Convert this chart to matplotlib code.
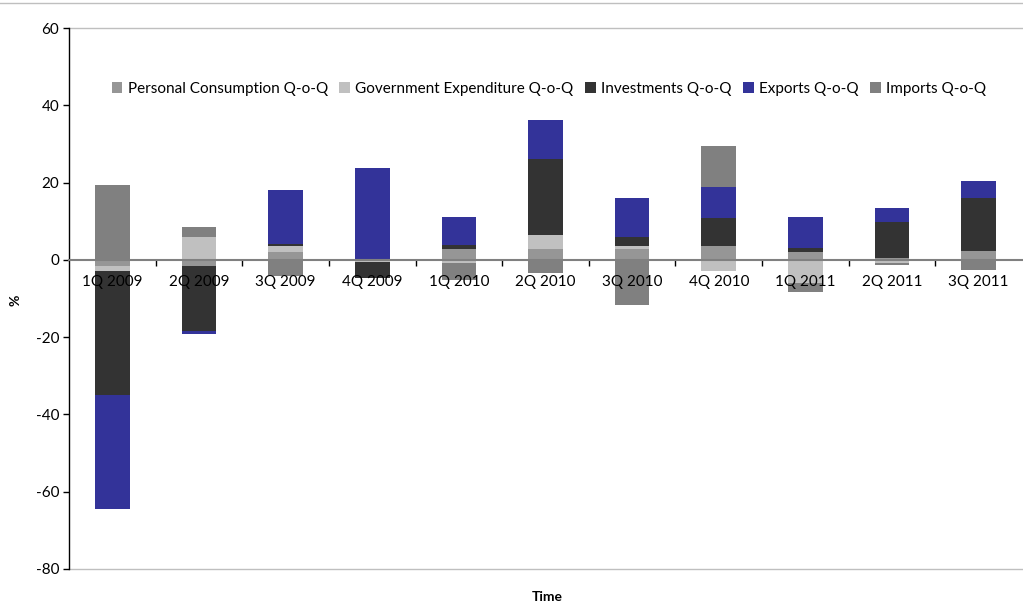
import numpy as np
import matplotlib
matplotlib.use("Agg")
import matplotlib.pyplot as plt
from matplotlib.lines import Line2D

plt.rcParams['font.family'] = ['Lato', 'DejaVu Sans']
plt.rcParams['axes.unicode_minus'] = False

quarters = ['1Q 2009', '2Q 2009', '3Q 2009', '4Q 2009', '1Q 2010', '2Q 2010',
            '3Q 2010', '4Q 2010', '1Q 2011', '2Q 2011', '3Q 2011']

personal_consumption = [-1.5, -1.7, 2.15, 0.0, 2.85, 2.8, 2.7, 3.6, 2.0, 0.4, 2.4]
government_expenditure = [-1.5, 6.0, 1.5, -0.5, -0.9, 3.7, 1.0, -2.8, -6.0, -0.7, 0.0]
investments = [-32.1, -16.8, 0.5, -4.1, 1.0, 19.6, 2.25, 7.3, 1.0, 9.4, 13.7]
exports = [-29.3, -0.7, 13.95, 23.8, 7.25, 10.1, 10.1, 8.0, 8.0, 3.6, 4.2]
imports = [19.4, 2.5, -4.3, 0.0, -4.3, -3.3, -11.6, 10.6, -2.2, -0.6, -2.5]

series = [
    ('Personal Consumption Q-o-Q', personal_consumption, '#969696'),
    ('Government Expenditure Q-o-Q', government_expenditure, '#C0C0C0'),
    ('Investments Q-o-Q', investments, '#333333'),
    ('Exports Q-o-Q', exports, '#333399'),
    ('Imports Q-o-Q', imports, '#808080'),
]

fig = plt.figure(figsize=(10.23, 6.07), dpi=100)
ax = fig.add_axes([69 / 1023, 1 - 569 / 607, 953 / 1023, 541 / 607])

x = np.arange(len(quarters))
pos_base = np.zeros(len(quarters))
neg_base = np.zeros(len(quarters))
handles = []
for name, vals, color in series:
    v = np.array(vals, dtype=float)
    bottom = np.where(v >= 0, pos_base, neg_base)
    b = ax.bar(x, v, width=0.4, bottom=bottom, color=color, label=name,
               linewidth=0, zorder=1)
    handles.append(b)
    pos_base = pos_base + np.where(v >= 0, v, 0)
    neg_base = neg_base + np.where(v < 0, v, 0)

ax.set_xlim(-0.5, len(quarters) - 0.5)
ax.set_ylim(-80, 60)
ax.set_yticks(np.arange(-80, 61, 20))
ax.tick_params(axis='y', direction='out', length=4, width=1, color='black',
               labelsize=11, pad=3)

# category axis sits on the zero line
ax.spines['bottom'].set_position(('data', 0))
ax.spines['bottom'].set_color('#808080')
ax.spines['bottom'].set_linewidth(1.5)
ax.spines['left'].set_color('black')
ax.spines['left'].set_linewidth(1.0)
ax.spines['top'].set_visible(False)
ax.spines['right'].set_visible(False)

ax.set_xticks(x)
ax.set_xticklabels(quarters)
ax.set_xticks(np.arange(0.5, len(quarters) - 0.5, 1.0), minor=True)
ax.tick_params(axis='x', which='major', length=0, labelsize=11, pad=11)
ax.tick_params(axis='x', which='minor', length=4, width=1, color='black',
               direction='out')

# plot-area borders at top and bottom
for yv in (60, -80):
    ax.axhline(yv, color='#BFBFBF', linewidth=1.0, clip_on=False, zorder=0)

fig.text(15 / 1023, 1 - 300 / 607, '%', rotation=90, ha='center', va='center',
         fontsize=10, fontweight='bold')
fig.text(547 / 1023, 1 - 597 / 607, 'Time', ha='center', va='center',
         fontsize=10, fontweight='bold')

ax.legend(handles=handles, loc='center', ncol=5, frameon=False,
          bbox_to_anchor=(549 / 1023, 1 - 89 / 607),
          bbox_transform=fig.transFigure, fontsize=11,
          handlelength=0.7, handleheight=0.7, handletextpad=0.35,
          columnspacing=0.75, borderpad=0)

# chart border line along the top edge
fig.add_artist(Line2D([0, 1], [1 - 3 / 607, 1 - 3 / 607], color='#BFBFBF',
                      linewidth=1.0, transform=fig.transFigure))

fig.savefig('out.png', dpi=100)
